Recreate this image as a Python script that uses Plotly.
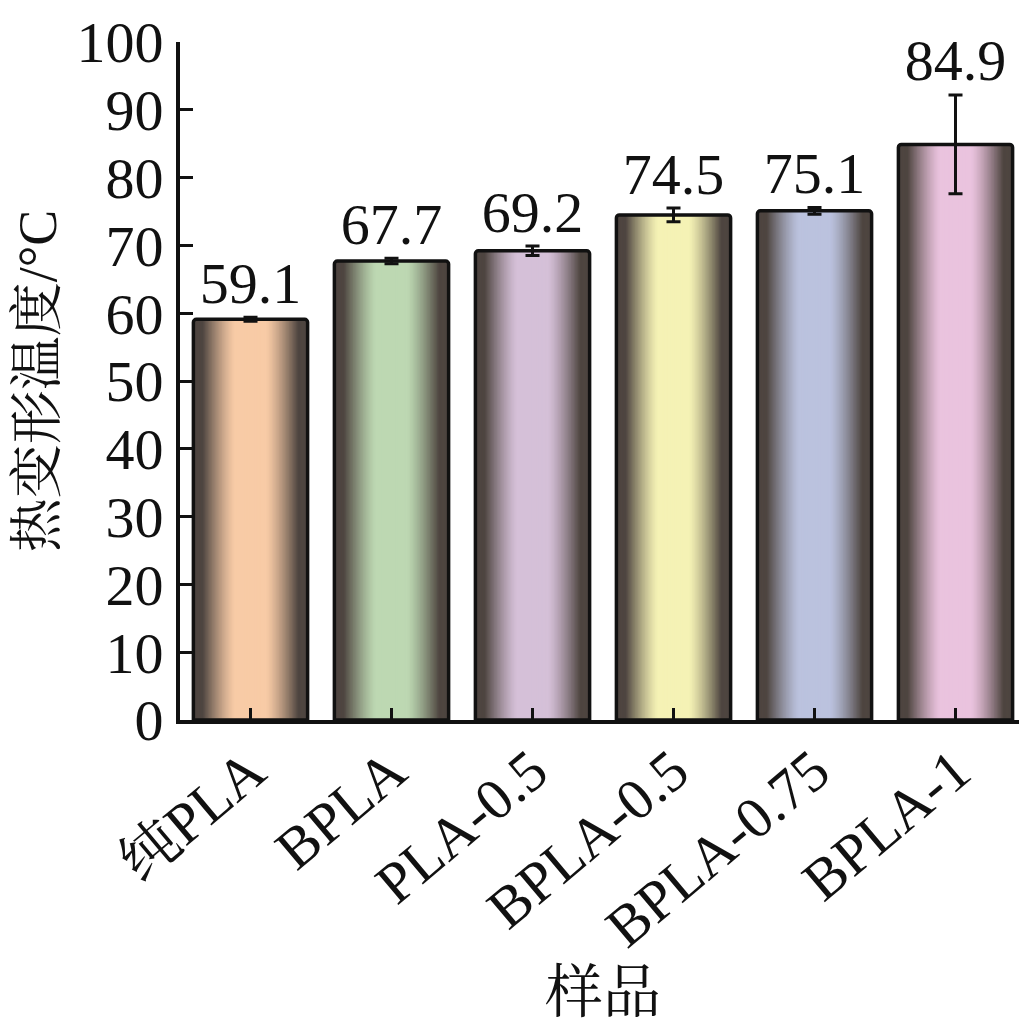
import plotly.graph_objects as go

categories = ["纯PLA", "BPLA", "PLA-0.5", "BPLA-0.5", "BPLA-0.75", "BPLA-1"]
values = [59.1, 67.7, 69.2, 74.5, 75.1, 84.9]
errors = [0.3, 0.4, 0.7, 1.0, 0.5, 7.3]
value_labels = ["59.1", "67.7", "69.2", "74.5", "75.1", "84.9"]
center_colors = ["#F8CBA6", "#BDD8B2", "#D5C0D8", "#F5F2B5", "#BBC2DE", "#EAC3DE"]
edge_color = "#4E4540"

FONT = "Liberation Serif, Times New Roman, Noto Serif CJK SC, Noto Sans CJK SC, serif"
BAR_W = 0.81
N_LAYERS = 40


def hex2rgb(h):
    h = h.lstrip("#")
    return [int(h[i:i + 2], 16) for i in (0, 2, 4)]


def mix(c1, c2, t):
    a, b = hex2rgb(c1), hex2rgb(c2)
    return "rgb(%d,%d,%d)" % tuple(round(a[i] + (b[i] - a[i]) * t) for i in range(3))


def profile(d):
    s = (d - 0.28) / 0.57
    s = max(0.0, min(1.0, s))
    return s ** 1.3


fig = go.Figure()

# gradient layers (widest = darkest edge, narrowest = light centre)
for k in range(N_LAYERS):
    d = 1 - k / N_LAYERS
    t = profile(d)
    cols = [mix(c, edge_color, t) for c in center_colors]
    fig.add_trace(go.Bar(
        x=categories, y=values, width=BAR_W * d,
        marker=dict(color=cols, line=dict(width=0)),
        hoverinfo="skip", showlegend=False,
    ))

# outline + error bars
fig.add_trace(go.Bar(
    x=categories, y=values, width=BAR_W,
    marker=dict(color="rgba(0,0,0,0)", line=dict(color="#111111", width=3.5), cornerradius=3),
    error_y=dict(type="data", array=errors, visible=True, color="#111111", thickness=3, width=7),
    showlegend=False,
))

# value labels above error bars
fig.add_trace(go.Scatter(
    x=categories, y=[v + e for v, e in zip(values, errors)],
    mode="text", text=value_labels, textposition="top center",
    textfont=dict(family=FONT, size=58, color="#111111"),
    showlegend=False, hoverinfo="skip",
))

# page body adds an 8px offset; figure sized to fill the window exactly
fig.update_layout(
    width=1019, height=1020,
    margin=dict(l=172, r=1, t=34, b=308),
    barmode="overlay",
    plot_bgcolor="white", paper_bgcolor="white",
    font=dict(family=FONT, size=58, color="#111111"),
)

fig.update_xaxes(
    range=[-0.5, 5.5], showline=True, linewidth=4, linecolor="#111111",
    ticks="inside", ticklen=12, tickwidth=3, tickcolor="#111111",
    tickangle=-40, tickfont=dict(family=FONT, size=58), ticklabelstandoff=-10,
    showgrid=False, zeroline=False, automargin=False,
    title=dict(text="样品", font=dict(family=FONT, size=58), standoff=0),
)
fig.update_yaxes(
    range=[0, 100], dtick=10, showline=True, linewidth=4, linecolor="#111111",
    ticks="inside", ticklen=13, tickwidth=3, tickcolor="#111111",
    tickfont=dict(family=FONT, size=58), ticklabelstandoff=1,
    showgrid=False, zeroline=False, automargin=False,
    title=dict(text="热变形温度/°C", font=dict(family=FONT, size=54), standoff=18),
)

fig.write_html("out.html")
